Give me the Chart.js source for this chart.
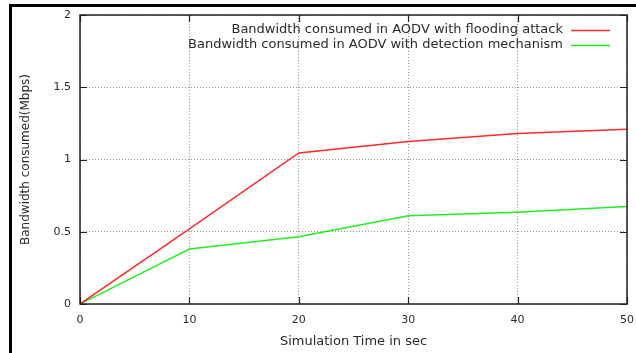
<!DOCTYPE html>
<html>
<head>
<meta charset="utf-8">
<script src="https://cdn.jsdelivr.net/npm/chart.js@4/dist/chart.umd.min.js"></script>
<style>
html, body { margin: 0; padding: 0; background: #fff; }
#wrap { width: 636px; height: 353px; position: relative; }
</style>
</head>
<body>
<div id="wrap"><canvas id="grafico"></canvas></div>
<script>
// values
var timeSec = [0, 10, 20, 30, 40, 50];
var floodBw = [0, 0.52, 1.045, 1.125, 1.18, 1.21];
var detectBw = [0, 0.38, 0.465, 0.61, 0.635, 0.675];
var seriesNames = ["Bandwidth consumed in AODV with flooding attack",
                   "Bandwidth consumed in AODV with detection mechanism"];
var seriesColors = ["#ff2a2a", "#22ee22"];
var xTicks = [0, 10, 20, 30, 40, 50];
var yTicks = [0, 0.5, 1, 1.5, 2];

var FONT = "'DejaVu Sans', sans-serif";
var TXT = "#2a2a2a";

function pts(ys) {
    return timeSec.map(function (t, i) { return { x: t, y: ys[i] }; });
}

// gnuplot look: outer frame, plot box, inward ticks, legend inside the box
var gnuplotBox = {
    id: "gnuplotBox",
    afterDraw: function (chart) {
        var ctx = chart.ctx, ca = chart.chartArea;
        var xs = chart.scales.x, ys = chart.scales.y;
        ctx.save();
        // outer frame (left + top only)
        ctx.strokeStyle = "#000";
        ctx.lineWidth = 3;
        ctx.beginPath();
        ctx.moveTo(10.5, 353);
        ctx.lineTo(10.5, 5.5);
        ctx.lineTo(636, 5.5);
        ctx.stroke();
        // plot box
        ctx.strokeStyle = "#222";
        ctx.lineWidth = 1.5;
        ctx.strokeRect(ca.left, ca.top, ca.right - ca.left, ca.bottom - ca.top);
        // inward tick marks
        ctx.lineWidth = 1.2;
        ctx.beginPath();
        xTicks.forEach(function (v) {
            var px = Math.round(xs.getPixelForValue(v)) + 0.5;
            ctx.moveTo(px, ca.bottom); ctx.lineTo(px, ca.bottom - 7);
            ctx.moveTo(px, ca.top); ctx.lineTo(px, ca.top + 7);
        });
        yTicks.forEach(function (v) {
            var py = Math.round(ys.getPixelForValue(v)) + 0.5;
            ctx.moveTo(ca.left, py); ctx.lineTo(ca.left + 7, py);
            ctx.moveTo(ca.right, py); ctx.lineTo(ca.right - 7, py);
        });
        ctx.stroke();
        // legend
        ctx.font = "13px " + FONT;
        ctx.fillStyle = TXT;
        ctx.textAlign = "right";
        ctx.textBaseline = "middle";
        chart.data.datasets.forEach(function (ds, i) {
            var y = ca.top + 14.5 + i * 15;
            ctx.fillText(ds.label, ca.right - 64, y);
            ctx.strokeStyle = ds.borderColor;
            ctx.lineWidth = 1.5;
            ctx.beginPath();
            ctx.moveTo(ca.right - 56, Math.round(y) + 0.5);
            ctx.lineTo(ca.right - 17, Math.round(y) + 0.5);
            ctx.stroke();
        });
        ctx.restore();
    }
};

var grafico = document.getElementById("grafico");

var bwChart = new Chart(grafico, {
    type: "line",
    data: {
        datasets: [
            { label: seriesNames[0], data: pts(floodBw), borderColor: seriesColors[0], borderWidth: 1.5, pointRadius: 0, tension: 0, fill: false },
            { label: seriesNames[1], data: pts(detectBw), borderColor: seriesColors[1], borderWidth: 1.5, pointRadius: 0, tension: 0, fill: false }
        ]
    },
    options: {
        responsive: true,
        maintainAspectRatio: false,
        animation: false,
        devicePixelRatio: 1,
        layout: { padding: { left: 0, top: 15, right: 9, bottom: 0 } },
        plugins: { legend: { display: false }, tooltip: { enabled: false } },
        scales: {
            x: {
                type: "linear",
                min: 0, max: 50,
                afterBuildTicks: function (s) { s.ticks = xTicks.map(function (v) { return { value: v }; }); },
                afterFit: function (s) { s.height = 49; s.paddingLeft = 0; s.paddingRight = 0; },
                border: { display: false, dash: [1, 2] },
                grid: { color: "#999", drawTicks: false, lineWidth: 1 },
                ticks: { color: TXT, font: { family: FONT, size: 11 }, padding: 10, maxRotation: 0,
                         callback: function (v) { return String(v); } },
                title: { display: true, text: "Simulation Time in sec", color: TXT, font: { family: FONT, size: 13 }, padding: { bottom: 4 } }
            },
            y: {
                min: 0, max: 2,
                afterBuildTicks: function (s) { s.ticks = yTicks.map(function (v) { return { value: v }; }); },
                afterFit: function (s) { s.width = 80; s.paddingTop = 0; s.paddingBottom = 0; },
                border: { display: false, dash: [1, 2] },
                grid: { color: "#999", drawTicks: false, lineWidth: 1 },
                ticks: { color: TXT, font: { family: FONT, size: 11 }, padding: 9,
                         callback: function (v) { return String(v); } },
                title: { display: true, text: "Bandwidth consumed(Mbps)", color: TXT, font: { family: FONT, size: 12 }, padding: { top: 19 } }
            }
        }
    },
    plugins: [gnuplotBox]
});
</script>
</body>
</html>
